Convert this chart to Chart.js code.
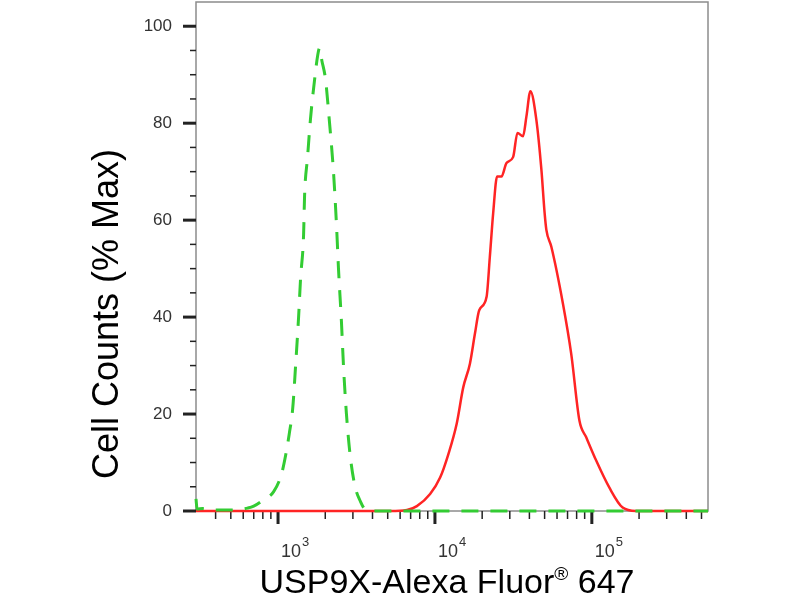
<!DOCTYPE html>
<html>
<head>
<meta charset="utf-8">
<script src="https://cdn.jsdelivr.net/npm/chart.js@4.4.1/dist/chart.umd.min.js"></script>
<style>
  html, body { margin: 0; padding: 0; background: #fff; }
  #wrap { width: 800px; height: 600px; }
</style>
</head>
<body>
<div id="wrap"><canvas id="chart" width="800" height="600"></canvas></div>
<script>
//-----------------------------------------------------
// Data
//-----------------------------------------------------
const xMajorTicks = [1e3, 1e4, 1e5];
const xTickExponents = ["3", "4", "5"];
const xMinorTicks = [400, 500, 600, 700, 800, 900,
  2000, 3000, 4000, 5000, 6000, 7000, 8000, 9000,
  20000, 30000, 40000, 50000, 60000, 70000, 80000, 90000,
  200000, 300000, 400000, 500000];
const yMajorTicks = [0, 20, 40, 60, 80, 100];
const yMinorTicks = [5, 10, 15, 25, 30, 35, 45, 50, 55, 65, 70, 75, 85, 90, 95];

// isotype control (green, dashed)
const controlX = [300, 305, 330, 360, 400, 480, 560, 640, 700, 800, 938, 1050, 1118, 1180,
  1239, 1294, 1352, 1392, 1455, 1476, 1542, 1611, 1710, 1790, 1839, 1900, 2008, 2130,
  2256, 2358, 2428, 2536, 2612, 2729, 2893, 3100, 3348, 3600, 4000, 550000];
const controlY = [2.5, 0.4, 0.5, 0.3, 0.2, 0.2, 0.3, 0.6, 1.0, 2.2, 4, 7.5, 11.5, 16,
  21, 30, 40, 48, 57, 65, 73, 81, 89, 94, 95.5, 93, 89, 80,
  70, 59, 50, 39, 30, 20, 11, 5, 2, 0.3, 0, 0];

// USP9X stained (red)
const usp9xX = [300, 5190, 6630, 7670, 9315, 10790, 12170, 13760, 15150, 16710, 17990,
  19150, 21340, 22380, 23500, 24900, 26550, 28580, 31490, 33570, 36420, 38290, 40590,
  44300, 47700, 50000, 51300, 55200, 65400, 73900, 83400, 92100, 106600, 129400,
  157200, 191000, 550000];
const usp9xY = [0, 0, 0.2, 1, 3.5, 6.9, 11.7, 18, 25.5, 30.4, 36.6,
  41.4, 44.2, 52.4, 61.4, 69, 69, 71.8, 73, 78, 77.3, 81.4, 86.6,
  80.7, 70.4, 61.5, 58, 54.5, 42.8, 32.4, 18.6, 15.2, 10.4, 4.8,
  0.7, 0, 0];

const FONT = "'Liberation Sans', Arial, sans-serif";

//-----------------------------------------------------
// Frame, tick marks, 10^n labels and axis titles
//-----------------------------------------------------
const framePlugin = {
  id: "frame",
  beforeDatasetsDraw(chart) {
    const { ctx, chartArea: a, scales: { x, y } } = chart;
    ctx.save();
    ctx.strokeStyle = "#8c8c8c";
    ctx.lineWidth = 1.5;
    ctx.strokeRect(a.left, a.top, a.right - a.left, a.bottom - a.top);

    ctx.strokeStyle = "#222";
    const tick = (x1, y1, x2, y2, w) => {
      ctx.lineWidth = w;
      ctx.beginPath();
      ctx.moveTo(x1, y1);
      ctx.lineTo(x2, y2);
      ctx.stroke();
    };
    yMajorTicks.forEach(v => { const p = y.getPixelForValue(v); tick(a.left - 13, p, a.left, p, 3); });
    yMinorTicks.forEach(v => { const p = y.getPixelForValue(v); tick(a.left - 6, p, a.left, p, 1.5); });
    xMajorTicks.forEach(v => { const p = x.getPixelForValue(v); tick(p, a.bottom, p, a.bottom + 13, 3); });
    xMinorTicks.forEach(v => { const p = x.getPixelForValue(v); tick(p, a.bottom, p, a.bottom + 8, 1.5); });

    // decade labels: "10" with raised exponent
    ctx.fillStyle = "#333";
    ctx.textAlign = "left";
    ctx.textBaseline = "alphabetic";
    xMajorTicks.forEach((v, i) => {
      const p = x.getPixelForValue(v) + 3;
      ctx.font = `18px ${FONT}`;
      ctx.fillText("10", p, a.bottom + 46);
      const w = ctx.measureText("10").width;
      ctx.font = `13px ${FONT}`;
      ctx.fillText(xTickExponents[i], p + w + 1, a.bottom + 35);
    });
    ctx.restore();
  },
  afterDraw(chart) {
    const { ctx, chartArea: a } = chart;
    ctx.save();
    ctx.fillStyle = "#000";
    ctx.textBaseline = "alphabetic";

    // y title
    ctx.save();
    ctx.translate(118, 314);
    ctx.rotate(-Math.PI / 2);
    ctx.font = `36px ${FONT}`;
    ctx.textAlign = "center";
    ctx.fillText("Cell Counts (% Max)", 0, 0);
    ctx.restore();

    // x title with superscript ®
    const main = "USP9X-Alexa Fluor", sup = "®", tail = " 647";
    ctx.font = `34px ${FONT}`;
    const wMain = ctx.measureText(main).width;
    const wTail = ctx.measureText(tail).width;
    ctx.font = `19px ${FONT}`;
    const wSup = ctx.measureText(sup).width;
    let cx = (a.left + a.right) / 2 - 5 - (wMain + wSup + wTail) / 2;
    const base = 593;
    ctx.textAlign = "left";
    ctx.font = `34px ${FONT}`;
    ctx.fillText(main, cx, base);
    cx += wMain;
    ctx.font = `19px ${FONT}`;
    ctx.fillText(sup, cx, base - 13);
    cx += wSup;
    ctx.font = `34px ${FONT}`;
    ctx.fillText(tail, cx, base);
    ctx.restore();
  }
};

//-----------------------------------------------------
// Chart
//-----------------------------------------------------
const toPoints = (xs, ys) => xs.map((v, i) => ({ x: v, y: ys[i] }));

new Chart(document.getElementById("chart"), {
  type: "line",
  data: {
    datasets: [
      {
        label: "Control",
        data: toPoints(controlX, controlY),
        borderColor: "#33cc33",
        borderWidth: 3,
        borderDash: [17, 12],
        pointRadius: 0,
        cubicInterpolationMode: "monotone",
        clip: false,
      },
      {
        label: "USP9X",
        data: toPoints(usp9xX, usp9xY),
        borderColor: "#ff2424",
        borderWidth: 2.5,
        pointRadius: 0,
        cubicInterpolationMode: "monotone",
        clip: false,
      },
    ],
  },
  options: {
    responsive: false,
    animation: false,
    devicePixelRatio: 1,
    layout: { padding: { top: 2, right: 92, left: 0, bottom: 0 } },
    plugins: { legend: { display: false }, tooltip: { enabled: false } },
    scales: {
      x: {
        type: "logarithmic",
        min: 300,
        max: 550000,
        afterBuildTicks: (s) => { s.ticks = xMajorTicks.map(v => ({ value: v })); },
        afterFit: (s) => { s.height = 89; s.paddingLeft = 0; s.paddingRight = 0; },
        grid: { display: false, drawTicks: false },
        border: { display: false },
        ticks: { display: false },
      },
      y: {
        type: "linear",
        min: 0,
        max: 105,
        afterBuildTicks: (s) => { s.ticks = yMajorTicks.map(v => ({ value: v })); },
        afterFit: (s) => { s.width = 196; s.paddingTop = 0; s.paddingBottom = 0; },
        grid: { display: false, drawTicks: false },
        border: { display: false },
        ticks: {
          padding: 24,
          color: "#333",
          font: { family: FONT, size: 17 },
          callback: (v) => String(v),
        },
      },
    },
  },
  plugins: [framePlugin],
});
</script>
</body>
</html>
